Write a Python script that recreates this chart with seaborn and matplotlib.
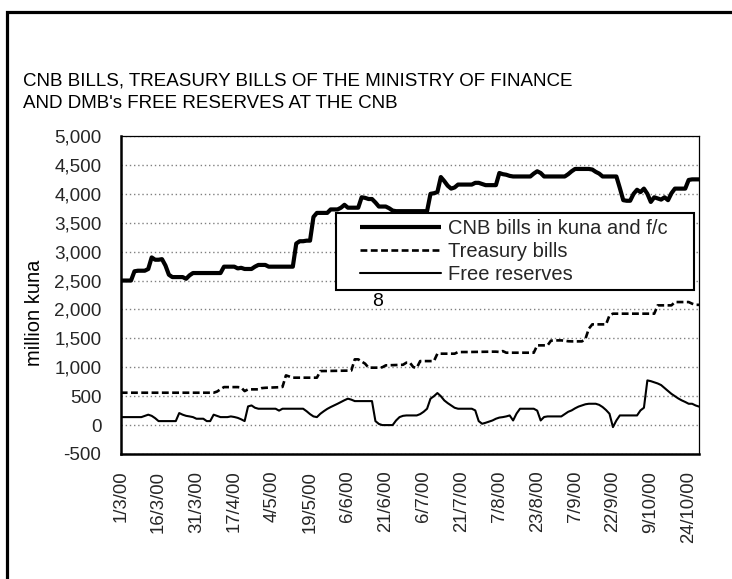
import numpy as np
import pandas as pd
import matplotlib
matplotlib.use("Agg")
import matplotlib.pyplot as plt
import seaborn as sns
from matplotlib.lines import Line2D
from matplotlib.legend_handler import HandlerLine2D
from matplotlib.patches import Rectangle

# ---------------- data (million kuna), daily, 1/3/00 .. 27/10/00 ----------------
tick_labels = ["1/3/00", "16/3/00", "31/3/00", "17/4/00", "4/5/00", "19/5/00",
               "6/6/00", "21/6/00", "6/7/00", "21/7/00", "7/8/00", "23/8/00",
               "7/9/00", "22/9/00", "9/10/00", "24/10/00"]
tick_step = 11

cnb_bills = [
    2500, 2500, 2500, 2500, 2660, 2670, 2670, 2670, 2700, 2900,
    2860, 2860, 2870, 2760, 2600, 2560, 2560, 2560, 2560, 2530,
    2590, 2630, 2630, 2630, 2630, 2630, 2630, 2630, 2630, 2630,
    2740, 2740, 2740, 2740, 2710, 2720, 2700, 2700, 2700, 2740,
    2770, 2770, 2770, 2740, 2740, 2740, 2740, 2740, 2740, 2740,
    2740, 3140, 3180, 3180, 3190, 3190, 3600, 3670, 3670, 3670,
    3670, 3730, 3730, 3730, 3760, 3810, 3760, 3760, 3760, 3760,
    3940, 3930, 3910, 3910, 3850, 3780, 3780, 3780, 3750, 3710,
    3700, 3700, 3700, 3700, 3700, 3700, 3700, 3700, 3700, 3700,
    4000, 4010, 4030, 4290, 4220, 4140, 4090, 4110, 4160, 4160,
    4160, 4160, 4160, 4190, 4190, 4170, 4150, 4150, 4150, 4150,
    4360, 4340, 4330, 4310, 4300, 4300, 4300, 4300, 4300, 4300,
    4350, 4390, 4360, 4300, 4300, 4300, 4300, 4300, 4300, 4300,
    4340, 4390, 4430, 4430, 4430, 4430, 4430, 4420, 4380, 4350,
    4300, 4300, 4300, 4300, 4300, 4100, 3890, 3880, 3880, 4000,
    4070, 4030, 4090, 4000, 3860, 3940, 3920, 3900, 3940, 3890,
    4010, 4090, 4090, 4090, 4090, 4240, 4250, 4250, 4250,
]

treasury_bills = [
    560, 560, 560, 560, 560, 560, 560, 560, 560, 560,
    560, 560, 560, 560, 560, 560, 560, 560, 560, 560,
    560, 560, 560, 560, 560, 560, 560, 560, 580, 620,
    657, 657, 657, 657, 657, 650, 588, 618, 618, 618,
    618, 640, 645, 648, 650, 652, 655, 660, 860, 840,
    820, 820, 820, 820, 820, 820, 820, 820, 934, 935,
    936, 937, 938, 939, 940, 941, 942, 945, 1137, 1137,
    1100, 1062, 993, 993, 993, 993, 1000, 1033, 1035, 1037,
    1039, 1041, 1043, 1080, 1080, 1003, 990, 1107, 1107, 1107,
    1107, 1107, 1235, 1235, 1235, 1235, 1235, 1235, 1263, 1263,
    1263, 1264, 1265, 1266, 1267, 1268, 1269, 1270, 1270, 1270,
    1265, 1280, 1252, 1252, 1252, 1252, 1252, 1252, 1252, 1252,
    1252, 1379, 1379, 1379, 1379, 1460, 1465, 1465, 1465, 1460,
    1450, 1448, 1448, 1448, 1448, 1490, 1668, 1742, 1742, 1742,
    1742, 1742, 1898, 1927, 1927, 1927, 1927, 1927, 1927, 1927,
    1927, 1927, 1927, 1927, 1927, 1927, 2071, 2071, 2071, 2071,
    2071, 2128, 2128, 2128, 2128, 2128, 2100, 2080, 2080,
]

free_reserves = [
    138, 138, 138, 138, 138, 138, 138, 160, 180, 160,
    120, 69, 69, 69, 69, 69, 69, 208, 180, 160,
    150, 138, 110, 110, 110, 69, 69, 180, 160, 138,
    138, 138, 150, 140, 125, 100, 69, 323, 340, 300,
    283, 283, 283, 283, 283, 283, 250, 283, 283, 283,
    283, 283, 283, 283, 240, 190, 150, 138, 196, 240,
    280, 312, 340, 369, 400, 430, 457, 440, 415, 415,
    415, 415, 415, 415, 69, 20, 0, 0, 0, 0,
    80, 138, 160, 167, 167, 167, 167, 190, 230, 283,
    457, 500, 554, 500, 427, 380, 340, 300, 283, 283,
    283, 283, 283, 254, 69, 23, 40, 60, 80, 110,
    130, 138, 150, 167, 80, 200, 283, 283, 283, 283,
    283, 250, 80, 140, 150, 150, 150, 150, 150, 190,
    230, 254, 290, 320, 340, 360, 369, 369, 369, 350,
    312, 260, 196, -35, 80, 167, 167, 167, 167, 167,
    167, 254, 300, 773, 760, 740, 720, 692, 640, 590,
    540, 500, 460, 427, 400, 369, 369, 340, 320,
]

series_names = ["CNB bills in kuna and f/c", "Treasury bills", "Free reserves"]

n = len(cnb_bills)
day = np.arange(n)
df = pd.DataFrame({"day": day, "cnb": cnb_bills, "tb": treasury_bills, "fr": free_reserves})

# ---------------- figure ----------------
sns.set_theme(style="white")
plt.rcParams["font.family"] = ["Liberation Sans", "DejaVu Sans"]

W, H = 732, 579
fig = plt.figure(figsize=(W / 100, H / 100), dpi=100)
fig.patch.set_facecolor("white")

def fx(px):
    return px / W

def fy(py):
    return 1 - py / H

ax_l, ax_r, ax_t, ax_b = 120.7, 699.0, 136.0, 454.0
ax = fig.add_axes([fx(ax_l), fy(ax_b), fx(ax_r - ax_l), (ax_b - ax_t) / H])

sns.lineplot(data=df, x="day", y="cnb", ax=ax, color="black", lw=3.0,
             label=series_names[0], solid_joinstyle="round", solid_capstyle="butt")
sns.lineplot(data=df, x="day", y="tb", ax=ax, color="black", lw=1.9,
             linestyle=(0, (2.6, 1.3)), label=series_names[1])
sns.lineplot(data=df, x="day", y="fr", ax=ax, color="black", lw=1.5,
             label=series_names[2])

ax.set_xlim(0, n - 1)
ax.set_ylim(-500, 5000)
ax.set_yticks(np.arange(-500, 5001, 500))
ax.set_yticklabels([f"{v:,}" for v in range(-500, 5001, 500)], fontsize=13.6)
ax.set_xticks(day[::tick_step][:len(tick_labels)])
ax.set_xticklabels(tick_labels, rotation=90, fontsize=13.3, va="top", ha="center")
ax.tick_params(axis="x", length=0, pad=12)
ax.tick_params(axis="y", direction="inout", length=10, width=1.2, pad=9, color="black")
ax.set_xlabel("")
ax.set_ylabel("")

ax.grid(axis="y", color="#808080", linestyle=(0, (1, 2)), linewidth=1.0)
ax.set_axisbelow(True)

for side in ["left", "bottom"]:
    ax.spines[side].set_linewidth(1.8)
    ax.spines[side].set_color("black")
for side in ["top", "right"]:
    ax.spines[side].set_linewidth(0.9)
    ax.spines[side].set_color("black")

# legend
leg = ax.legend(loc="upper left",
                bbox_to_anchor=(fx(336), fy(290), fx(694 - 336), (290 - 213) / H),
                bbox_transform=fig.transFigure, mode="expand",
                fontsize=14.5, frameon=True, fancybox=False, shadow=False,
                borderpad=0.3, labelspacing=0.2, handlelength=4.9,
                handletextpad=0.35, borderaxespad=0,
                handler_map={Line2D: HandlerLine2D(xpad=0.9)})
leg.get_frame().set_edgecolor("black")
leg.get_frame().set_linewidth(1.5)
leg.get_frame().set_facecolor("white")
leg.get_frame().set_alpha(1)

# texts
fig.text(fx(22.7), fy(86), "CNB BILLS, TREASURY BILLS OF THE MINISTRY OF FINANCE",
         fontsize=13.5, ha="left", va="baseline", color="black")
fig.text(fx(22.7), fy(108.3), "AND DMB's FREE RESERVES AT THE CNB",
         fontsize=13.5, ha="left", va="baseline", color="black")
fig.text(fx(35), fy(313), "million kuna", rotation=90, fontsize=14.5,
         ha="center", va="center", color="black")
fig.text(fx(378), fy(301), "8", fontsize=14, ha="center", va="center", color="black")

# outer frame
fig.patches.append(Rectangle((fx(7.3), fy(600)), 1.2, (600 - 11.7) / H,
                             transform=fig.transFigure, fill=False,
                             edgecolor="black", linewidth=2.3, figure=fig))

fig.savefig("out.png", dpi=100, facecolor="white")
